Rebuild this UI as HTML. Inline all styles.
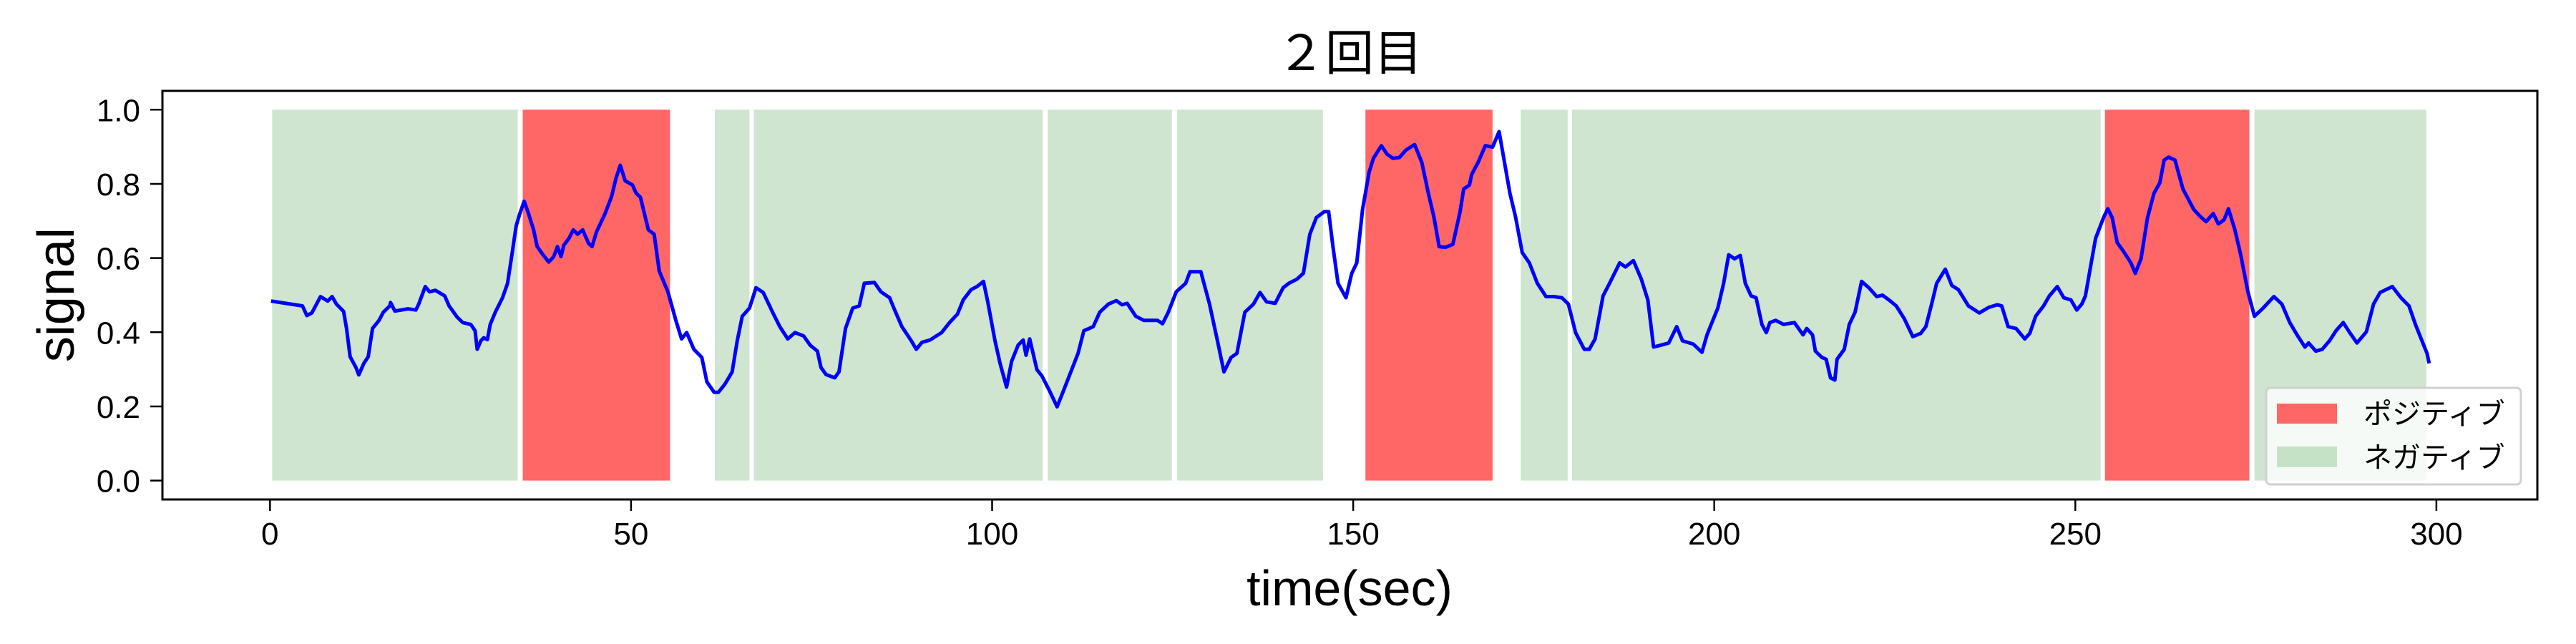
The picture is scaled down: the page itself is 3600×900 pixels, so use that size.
<!DOCTYPE html>
<html><head><meta charset="utf-8">
<style>
html,body{margin:0;padding:0;background:#fff;}
svg{display:block;}
text{font-family:"Liberation Sans","Noto Sans CJK JP",sans-serif;fill:#000;}
</style></head>
<body>
<svg id="chart" width="3600" height="900" viewBox="0 0 3600 900">
  <g id="spans"></g>
  <g id="series"></g>
  <rect x="227" y="127" width="3319" height="571" fill="none" stroke="#000" stroke-width="3"/>
  <g id="xticks"></g>
  <g id="yticks"></g>
  <text x="1886" y="98" font-size="68" text-anchor="middle">２回目</text>
  <text x="1886" y="846" font-size="70" text-anchor="middle">time(sec)</text>
  <text transform="translate(103,412) rotate(-90)" font-size="72" text-anchor="middle">signal</text>
  <g>
    <rect x="3167" y="542" width="356" height="135" rx="6" fill="#fff" fill-opacity="0.8" stroke="#d0d0d0" stroke-width="3"/>
    <g>
      <rect x="3182" y="564" width="84" height="28" fill="#ff6666"/>
      <text x="3303" y="592" font-size="40">ポジティブ</text>
    </g>
    <g>
      <rect x="3182" y="624" width="84" height="29" fill="#c6e2c6"/>
      <text x="3303" y="653" font-size="40">ネガティブ</text>
    </g>
  </g>
</svg>
<script>
const xTicks = [0, 50, 100, 150, 200, 250, 300];
const yTicks = [0.0, 0.2, 0.4, 0.6, 0.8, 1.0];
const yTickLabels = ["0.0", "0.2", "0.4", "0.6", "0.8", "1.0"];
const spanStarts = [0.3, 35.0, 61.6, 67.0, 107.7, 125.6, 151.7, 173.2, 180.3, 254.1, 274.8];
const spanEnds = [34.3, 55.4, 66.4, 107.0, 124.9, 145.8, 169.3, 179.7, 253.5, 274.1, 298.6];
const spanKinds = ["neg", "pos", "neg", "neg", "neg", "neg", "pos", "neg", "neg", "pos", "neg"];
const times = [0.15,4.5,5.1,5.8,7.0,8.0,8.6,9.2,10.2,10.6,11.1,11.9,12.3,13.0,13.6,14.2,15.1,15.7,16.6,16.7,17.3,19.1,20.2,20.6,21.5,22.1,22.9,24.2,24.8,25.9,26.7,27.8,28.4,28.7,29.2,29.6,30.1,30.5,31.2,32.2,32.9,33.5,34.1,34.6,35.2,35.8,36.5,37.0,37.8,38.6,39.3,39.8,40.3,40.7,41.4,42.0,42.6,43.3,44.1,44.6,45.2,46.4,47.3,47.9,48.5,49.2,50.2,50.7,51.3,52.4,53.2,53.9,55.1,56.2,57.0,57.7,58.7,59.8,60.5,61.5,62.1,63.0,64.0,64.7,65.4,66.4,67.3,68.3,69.6,70.6,71.7,72.7,73.9,74.8,75.8,76.3,77.0,78.2,78.8,79.7,80.7,81.6,82.3,83.7,84.6,85.8,86.5,87.5,88.8,89.5,90.3,91.4,93.0,94.1,95.2,96.0,97.1,97.9,98.8,99.4,100.4,101.1,102.0,102.7,103.6,104.3,104.7,105.2,106.2,106.9,107.9,109.0,109.8,110.8,111.9,112.7,114.0,114.9,116.1,117.2,118.0,118.7,119.9,121.0,122.9,123.6,124.4,125.5,126.8,127.4,128.9,130.1,131.2,132.1,133.1,133.9,135.0,136.2,137.1,138.0,139.2,140.3,141.1,142.2,143.1,144.0,144.9,146.0,146.6,147.2,147.9,149.0,149.8,150.5,151.3,152.2,152.8,153.9,154.7,155.5,156.4,157.3,158.5,159.5,160.4,161.2,161.9,162.8,163.8,164.8,165.3,166.1,166.4,167.3,168.3,169.3,170.2,171.0,171.7,172.5,173.4,174.4,175.5,176.7,177.8,178.9,179.8,180.8,182.0,182.7,183.5,184.6,185.5,186.9,187.7,188.8,189.9,190.8,191.6,192.6,193.7,194.8,195.6,197.1,198.3,199.0,199.8,200.5,201.3,202.0,202.8,203.6,204.3,205.1,205.8,206.6,207.2,207.7,208.5,209.6,211.1,212.3,212.8,213.6,214.0,214.9,215.5,216.1,216.7,217.0,218.0,218.7,219.5,220.4,221.4,222.5,223.3,224.2,225.2,226.3,227.5,228.6,229.3,230.1,230.8,232.0,232.9,233.8,235.2,236.7,238.0,239.2,239.8,240.7,241.8,243.0,243.7,244.5,245.6,246.4,247.5,248.4,249.4,250.2,250.9,251.4,252.2,252.8,253.9,254.5,255.1,255.8,256.6,257.7,258.3,259.1,260.0,260.9,261.7,262.3,262.9,263.8,264.9,266.4,267.2,268.1,269.1,269.8,270.6,271.2,272.1,272.9,273.9,274.8,275.9,277.5,278.6,279.7,280.7,281.8,282.3,283.3,284.2,285.2,286.1,287.1,288.0,289.0,290.3,291.3,292.2,293.9,295.1,296.2,297.1,298.0,298.7,299.0];
const signal = [0.484,0.471,0.445,0.452,0.496,0.484,0.496,0.476,0.456,0.41,0.334,0.305,0.285,0.316,0.334,0.41,0.432,0.454,0.471,0.48,0.457,0.463,0.46,0.476,0.523,0.509,0.513,0.498,0.471,0.441,0.426,0.421,0.404,0.354,0.377,0.385,0.38,0.421,0.454,0.493,0.532,0.609,0.687,0.72,0.753,0.72,0.676,0.631,0.609,0.589,0.604,0.631,0.604,0.635,0.653,0.676,0.664,0.676,0.64,0.631,0.67,0.72,0.766,0.814,0.85,0.808,0.797,0.775,0.764,0.676,0.664,0.565,0.509,0.432,0.382,0.399,0.354,0.332,0.266,0.238,0.238,0.26,0.293,0.377,0.443,0.465,0.52,0.507,0.454,0.415,0.382,0.399,0.39,0.365,0.349,0.305,0.286,0.277,0.293,0.41,0.465,0.471,0.532,0.534,0.509,0.493,0.46,0.415,0.377,0.354,0.373,0.379,0.399,0.426,0.449,0.487,0.515,0.523,0.537,0.482,0.377,0.316,0.252,0.321,0.365,0.379,0.338,0.382,0.299,0.282,0.244,0.199,0.238,0.288,0.343,0.404,0.415,0.454,0.476,0.485,0.474,0.478,0.443,0.432,0.432,0.423,0.454,0.509,0.532,0.563,0.563,0.476,0.377,0.293,0.332,0.343,0.454,0.476,0.507,0.482,0.478,0.52,0.532,0.543,0.559,0.664,0.709,0.725,0.725,0.631,0.532,0.493,0.559,0.587,0.731,0.831,0.869,0.903,0.88,0.869,0.871,0.891,0.906,0.858,0.775,0.709,0.631,0.629,0.637,0.725,0.786,0.797,0.825,0.858,0.903,0.899,0.941,0.853,0.775,0.709,0.615,0.587,0.532,0.496,0.496,0.493,0.476,0.399,0.354,0.354,0.382,0.498,0.532,0.587,0.576,0.593,0.543,0.487,0.36,0.365,0.371,0.415,0.377,0.368,0.346,0.393,0.432,0.465,0.532,0.609,0.598,0.607,0.532,0.498,0.493,0.421,0.399,0.426,0.432,0.421,0.426,0.393,0.41,0.393,0.349,0.332,0.327,0.277,0.271,0.327,0.354,0.421,0.454,0.537,0.52,0.496,0.5,0.487,0.471,0.437,0.388,0.397,0.415,0.476,0.532,0.57,0.526,0.515,0.471,0.452,0.467,0.474,0.471,0.415,0.41,0.382,0.397,0.443,0.471,0.498,0.523,0.493,0.487,0.46,0.476,0.498,0.587,0.653,0.709,0.733,0.709,0.642,0.62,0.587,0.559,0.598,0.709,0.775,0.803,0.864,0.872,0.864,0.786,0.731,0.714,0.698,0.72,0.692,0.703,0.733,0.676,0.609,0.509,0.443,0.463,0.496,0.476,0.426,0.393,0.36,0.371,0.349,0.354,0.377,0.404,0.426,0.399,0.371,0.401,0.476,0.507,0.523,0.493,0.471,0.421,0.377,0.343,0.316];

const NS = "http://www.w3.org/2000/svg";
function xs(t){ return 377.3 + t * 10.092; }
function ys(v){ return 671.6 - v * 518.3; }

const spansG = document.getElementById('spans');
for (let i = 0; i < spanStarts.length; i++) {
  const r = document.createElementNS(NS, 'rect');
  r.setAttribute('x', xs(spanStarts[i]));
  r.setAttribute('width', xs(spanEnds[i]) - xs(spanStarts[i]));
  r.setAttribute('y', ys(1));
  r.setAttribute('height', ys(0) - ys(1));
  r.setAttribute('fill', spanKinds[i] === 'pos' ? '#ff6666' : '#cfe5cf');
  
  
  spansG.appendChild(r);
}

const seriesG = document.getElementById('series');
let d = '';
for (let i = 0; i < times.length; i++) {
  d += (i ? 'L' : 'M') + xs(times[i]).toFixed(1) + ' ' + ys(signal[i]).toFixed(1);
}
const path = document.createElementNS(NS, 'path');
path.setAttribute('d', d);
path.setAttribute('fill', 'none');
path.setAttribute('stroke', '#0000ff');
path.setAttribute('stroke-width', '5');
path.setAttribute('stroke-linejoin', 'round');


seriesG.appendChild(path);

const xg = document.getElementById('xticks');
for (const t of xTicks) {
  const l = document.createElementNS(NS, 'line');
  l.setAttribute('x1', xs(t)); l.setAttribute('x2', xs(t));
  l.setAttribute('y1', 698); l.setAttribute('y2', 714);
  l.setAttribute('stroke', '#000'); l.setAttribute('stroke-width', '2.5');
  
  
  xg.appendChild(l);
  const tx = document.createElementNS(NS, 'text');
  tx.setAttribute('x', xs(t)); tx.setAttribute('y', 761);
  tx.setAttribute('font-size', '44'); tx.setAttribute('text-anchor', 'middle');
  tx.textContent = String(t);
  
  
  xg.appendChild(tx);
}
const yg = document.getElementById('yticks');
for (let i = 0; i < yTicks.length; i++) {
  const v = yTicks[i];
  const l = document.createElementNS(NS, 'line');
  l.setAttribute('x1', 210); l.setAttribute('x2', 227);
  l.setAttribute('y1', ys(v)); l.setAttribute('y2', ys(v));
  l.setAttribute('stroke', '#000'); l.setAttribute('stroke-width', '2.5');
  
  
  yg.appendChild(l);
  const tx = document.createElementNS(NS, 'text');
  tx.setAttribute('x', 196); tx.setAttribute('y', ys(v) + 16);
  tx.setAttribute('font-size', '44'); tx.setAttribute('text-anchor', 'end');
  tx.textContent = yTickLabels[i];
  
  
  yg.appendChild(tx);
}
</script>
</body></html>
